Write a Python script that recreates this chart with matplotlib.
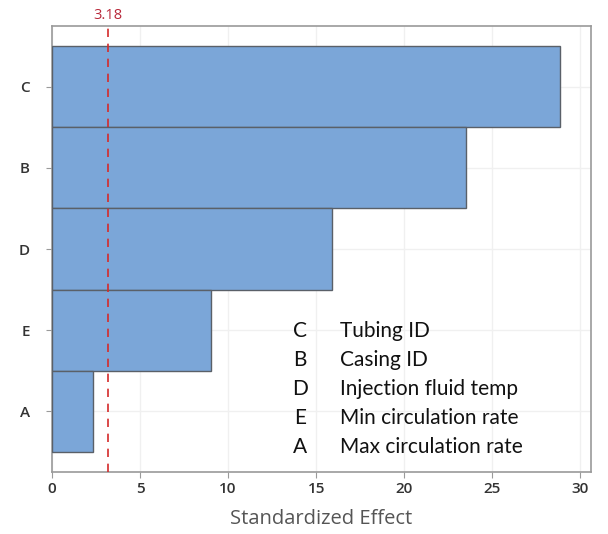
import numpy as np
import matplotlib.pyplot as plt

# Datos del diagrama de Pareto (efectos estandarizados)
factores = ["C", "B", "D", "E", "A"]
efectos = [28.85, 23.5, 15.9, 9.0, 2.35]
nombres = ["Tubing ID", "Casing ID", "Injection fluid temp",
           "Min circulation rate", "Max circulation rate"]
t_critico = 3.18
x_ticks = [0, 5, 10, 15, 20, 25, 30]

plt.rcParams['font.family'] = ['Open Sans', 'DejaVu Sans']

fig = plt.figure(figsize=(6.08, 5.34), dpi=100)
ax = fig.add_axes([0.0855, 0.1161, 0.8865, 0.8352])

y = np.arange(len(factores))
ax.barh(y, efectos, height=1.0, color="#7BA6D8", edgecolor="#5a6068",
        linewidth=1.0, zorder=3)

# Linea de referencia
ax.axvline(t_critico, color="#d42a2a", linestyle=(0, (5, 4)), linewidth=1.2, zorder=4)
ax.text(t_critico, 1.006, str(t_critico), transform=ax.get_xaxis_transform(),
        ha="center", va="bottom", color="#b8283a", fontsize=10.5)

ax.set_xlim(0, 30.6)
ax.set_ylim(4.75, -0.75)
ax.set_yticks(y)
ax.set_yticklabels(factores)
ax.set_xticks(x_ticks)
ax.grid(True, color="#f0f0f0", linewidth=1.0, zorder=0)
ax.set_axisbelow(True)

for s in ax.spines.values():
    s.set_color("#9a9a9a")
    s.set_linewidth(1.2)
ax.tick_params(colors="#9a9a9a", labelcolor="#333333", labelsize=11, length=4)
for lbl in ax.get_xticklabels() + ax.get_yticklabels():
    lbl.set_fontweight("semibold")
ax.tick_params(axis="y", pad=12)
ax.set_xlabel("Standardized Effect", color="#555555", fontsize=14.5, labelpad=9)

# Leyenda de factores
for i, (f, n) in enumerate(zip(factores, nombres)):
    yy = 0.380 - i * 0.0543
    fig.text(300 / 608, yy, f, ha="center", va="center", fontsize=15,
             family=["Lato", "DejaVu Sans"], color="#111111")
    fig.text(340 / 608, yy, n, ha="left", va="center", fontsize=15,
             family=["Lato", "DejaVu Sans"], color="#111111")

plt.savefig("out.png", dpi=100)
plt.close()
